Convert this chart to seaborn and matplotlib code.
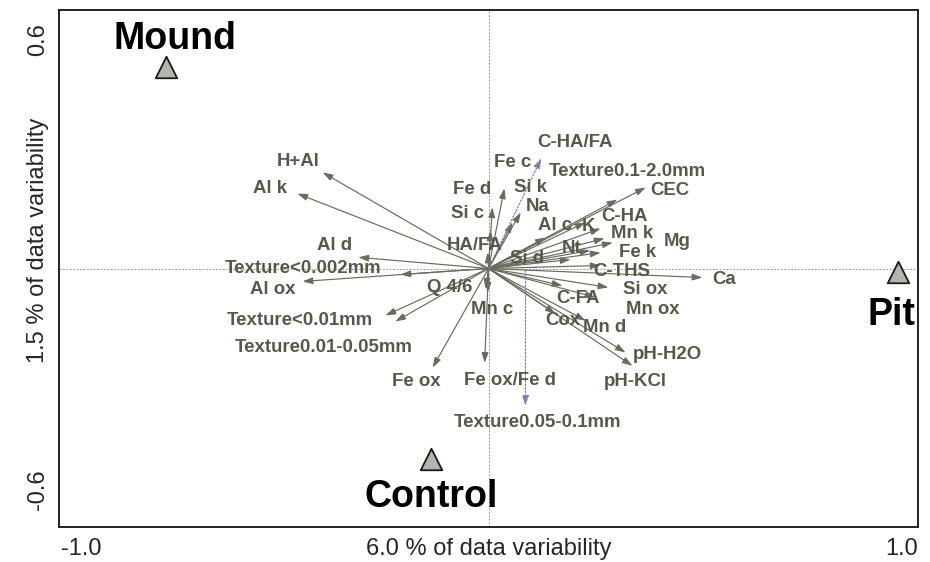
import matplotlib
matplotlib.use("Agg")
import matplotlib.pyplot as plt
import seaborn as sns
import pandas as pd

# ---- data ----
sample_names = ["Mound", "Control", "Pit"]
sample_x = [-0.751, -0.133, 0.953]
sample_y = [0.467, -0.442, -0.009]

var_names = ["H+Al", "Al k", "Al d", "Texture<0.002mm", "Al ox", "Texture<0.01mm",
             "Texture0.01-0.05mm", "Fe ox", "Q 4/6", "Mn c", "Fe ox/Fe d", "HA/FA",
             "Si c", "Fe d", "Fe c", "Si k", "Na", "Al c", "K", "Texture0.1-2.0mm",
             "CEC", "C-HA", "Mn k", "Mg", "Nt", "Fe k", "Si d", "C-THS", "Ca",
             "Si ox", "C-FA", "Mn ox", "Cox", "Mn d", "pH-H2O", "pH-KCl"]
var_x = [-0.386, -0.445, -0.303, -0.205, -0.433, -0.240,
         -0.217, -0.130, -0.007, -0.002, -0.009, -0.002,
         0.005, 0.009, 0.037, 0.075, 0.056, 0.133, 0.226, 0.300,
         0.366, 0.261, 0.270, 0.289, 0.237, 0.261, 0.191, 0.261, 0.498,
         0.279, 0.172, 0.249, 0.156, 0.226, 0.319, 0.335]
var_y = [0.223, 0.174, 0.026, -0.014, -0.030, -0.109,
         -0.123, -0.230, -0.047, -0.056, -0.219, 0.037,
         0.088, 0.142, 0.186, 0.130, 0.107, 0.072, 0.107, 0.160,
         0.188, 0.093, 0.070, 0.060, 0.042, 0.037, 0.021, 0.007, -0.021,
         -0.044, -0.040, -0.067, -0.105, -0.121, -0.195, -0.226]

sup_names = ["C-HA/FA", "Texture0.05-0.1mm"]
sup_x0 = [0.0, 0.086]
sup_y0 = [0.0, -0.005]
sup_x = [0.123, 0.086]
sup_y = [0.256, -0.319]

xlabel = "6.0 % of data variability"
ylabel = "1.5 % of data variability"
xtick_vals = [-1.0, -0.5, 0.0, 0.5, 1.0]
ytick_vals = [-0.6, -0.4, -0.2, 0.0, 0.2, 0.4, 0.6]
xtick_text = ["-1.0", "1.0"]
ytick_text = ["-0.6", "0.6"]

# ---- label offsets (pixels) ----
var_off = [(-25, 11), (-27, 5), (-24, 12), (-97, 6), (-30, -8), (-86, -5),
           (-72, -26), (-16, -14), (-36, 1), (4, -17), (25, -18), (-13, 7),
           (-23, 17), (-20, 18), (8, 26), (10, 25), (25, 16), (9, 12), (3, -4), (10, 28),
           (24, -3), (24, 12), (28, 5), (65, 1), (-19, 2), (37, 0), (-43, 1), (21, -6), (22, -2),
           (37, -2), (16, -13), (57, -12), (7, -7), (19, -7), (42, -2), (3, -16)]
sup_off = [(34, 16), (12, -17)]
sample_off = [(9, 28), (0, -38), (-6, -43)]

sns.set_style("white")
plt.rcParams["font.family"] = ["Liberation Sans", "DejaVu Sans"]

fig = plt.figure(figsize=(9.3, 5.62), dpi=100)
ax = fig.add_axes([59 / 930, 35 / 562, (918 - 59) / 930, (527 - 10) / 562])
ax.set_xlim(-1.0, 1.0)
ax.set_ylim(-0.6, 0.6)

# zero lines
ax.axhline(0, color="#9a9a9a", lw=0.7, ls=(0, (2, 1.5)), zorder=1)
ax.axvline(0, color="#9a9a9a", lw=0.7, ls=(0, (2, 1.5)), zorder=1)

arrow_col = "#6a6a5e"
text_col = "#58584a"
fs = 13.4
for name, x, y, off in zip(var_names, var_x, var_y, var_off):
    ax.annotate("", xy=(x, y), xytext=(0, 0),
                arrowprops=dict(arrowstyle="-|>,head_length=0.6,head_width=0.2",
                                color=arrow_col, lw=0.85, shrinkA=0, shrinkB=0), zorder=2)
    ax.annotate(name, xy=(x, y), xytext=off, textcoords="offset pixels",
                ha="center", va="center", fontsize=fs, fontweight="bold",
                color=text_col, zorder=3)

for name, x0, y0, x, y, off in zip(sup_names, sup_x0, sup_y0, sup_x, sup_y, sup_off):
    ax.annotate("", xy=(x, y), xytext=(x0, y0),
                arrowprops=dict(arrowstyle="-|>,head_length=0.6,head_width=0.2",
                                color="#7a80a8", lw=0.85, ls=(0, (1.5, 1.5)),
                                shrinkA=0, shrinkB=0), zorder=2)
    ax.annotate(name, xy=(x, y), xytext=off, textcoords="offset pixels",
                ha="center", va="center", fontsize=fs, fontweight="bold",
                color=text_col, zorder=3)

df = pd.DataFrame({"x": sample_x, "y": sample_y, "name": sample_names})
sns.scatterplot(data=df, x="x", y="y", marker="^", s=240, color="#b4b4ac",
                edgecolor="#1a1a1a", linewidth=1.3, ax=ax, zorder=4, legend=False)
for name, x, y, off in zip(sample_names, sample_x, sample_y, sample_off):
    ax.annotate(name, xy=(x, y), xytext=off, textcoords="offset pixels",
                ha="center", va="center", fontsize=27, fontweight="bold",
                color="black", zorder=5)

# frame & ticks
for s in ax.spines.values():
    s.set_color("#222222")
    s.set_linewidth(1.4)
ax.set_xticks(xtick_vals)
ax.set_yticks(ytick_vals)
ax.set_xticklabels([])
ax.set_yticklabels([])
ax.tick_params(axis="both", direction="inout", length=8, width=1.2, color="#222222")
ax.set_xlabel("")
ax.set_ylabel("")

tfs = 17
ax.text(0.002, -0.021, xtick_text[0], transform=ax.transAxes, ha="left", va="top", fontsize=tfs)
ax.text(1.0, -0.021, xtick_text[1], transform=ax.transAxes, ha="right", va="top", fontsize=tfs)
ax.text(0.5, -0.021, xlabel, transform=ax.transAxes, ha="center", va="top", fontsize=tfs)
ax.text(-0.0244, 0.072, ytick_text[0], transform=ax.transAxes, ha="center", va="center",
        rotation=90, fontsize=tfs)
ax.text(-0.0244, 0.942, ytick_text[1], transform=ax.transAxes, ha="center", va="center",
        rotation=90, fontsize=tfs)
ax.text(-0.0244, 0.555, ylabel, transform=ax.transAxes, ha="center", va="center",
        rotation=90, fontsize=tfs)

fig.savefig("out.png", dpi=100)
